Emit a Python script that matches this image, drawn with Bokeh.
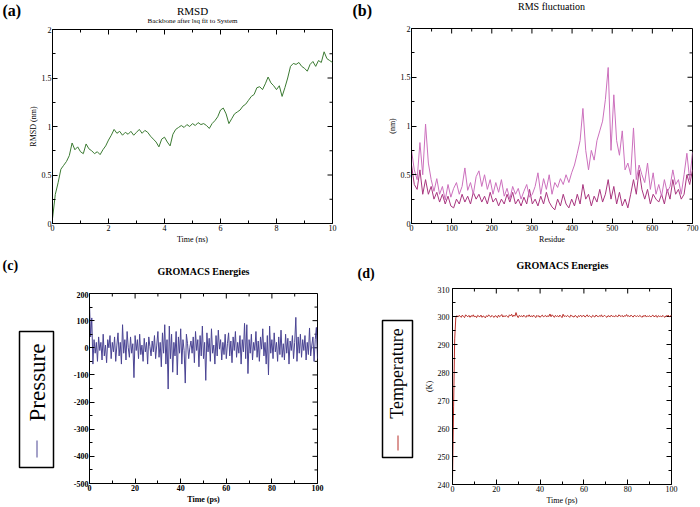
import numpy as np
from bokeh.plotting import figure
from bokeh.models import Range1d, FixedTicker, CustomJSTickFormatter
from bokeh.core.properties import value
from bokeh.layouts import row, column
from bokeh.embed import file_html
from bokeh.resources import INLINE

SERIF = "Liberation Serif"

# ---------------- data ----------------
# (a) RMSD backbone (nm) vs time (ns), 0..10 ns
rmsd_nm = [0.05, 0.30, 0.42, 0.56, 0.60, 0.64, 0.70, 0.83, 0.76, 0.79,
           0.74, 0.72, 0.82, 0.77, 0.75, 0.72, 0.74, 0.71, 0.76, 0.80,
           0.86, 0.91, 0.97, 0.93, 0.95, 0.91, 0.94, 0.92, 0.95, 0.91,
           0.94, 0.97, 0.93, 0.96, 0.94, 0.90, 0.87, 0.84, 0.79, 0.87,
           0.89, 0.84, 0.80, 0.92, 0.97, 0.99, 1.01, 0.99, 1.02, 1.00,
           1.03, 1.01, 1.04, 1.02, 1.03, 1.01, 0.98, 1.03, 1.06, 1.10,
           1.17, 1.19, 1.13, 1.03, 1.08, 1.13, 1.15, 1.17, 1.21, 1.23,
           1.27, 1.31, 1.33, 1.40, 1.41, 1.38, 1.44, 1.51, 1.45, 1.42,
           1.38, 1.42, 1.31, 1.40, 1.50, 1.62, 1.65, 1.64, 1.66, 1.62,
           1.60, 1.57, 1.64, 1.67, 1.62, 1.68, 1.66, 1.77, 1.70, 1.68,
           1.66]
rmsd_time_ns = np.linspace(0, 10, len(rmsd_nm))

# (b) RMS fluctuation (nm) per residue, two chains, residues 0..700
rmsf_chain1 = [0.75, 0.55, 0.45, 0.83, 0.50, 1.02, 0.62, 0.45, 0.33, 0.46,
               0.30, 0.38, 0.24, 0.40, 0.27, 0.36, 0.42, 0.30, 0.38, 0.57,
               0.34, 0.42, 0.30, 0.48, 0.54, 0.38, 0.50, 0.35, 0.45, 0.30,
               0.42, 0.32, 0.45, 0.28, 0.36, 0.25, 0.38, 0.30, 0.36, 0.25,
               0.33, 0.40, 0.27, 0.30, 0.38, 0.52, 0.30, 0.46, 0.35, 0.50,
               0.30, 0.42, 0.37, 0.46, 0.40, 0.50, 0.42, 0.52, 0.60, 0.72,
               0.85, 1.18, 0.75, 0.55, 0.75, 0.65, 0.85, 0.95, 1.05, 1.27,
               1.60, 0.75, 1.32, 0.85, 0.70, 0.95, 0.55, 0.62, 0.50, 0.98,
               0.45, 0.60, 0.50, 0.42, 0.62, 0.35, 0.52, 0.30, 0.40, 0.28,
               0.45, 0.32, 0.38, 0.55, 0.40, 0.45, 0.30, 0.50, 0.72, 0.45,
               0.73]
rmsf_chain2 = [0.60, 0.40, 0.35, 0.55, 0.30, 0.45, 0.30, 0.38, 0.25, 0.32,
               0.22, 0.30, 0.20, 0.28, 0.18, 0.16, 0.25, 0.20, 0.30, 0.22,
               0.28, 0.20, 0.32, 0.25, 0.30, 0.22, 0.28, 0.20, 0.32, 0.22,
               0.26, 0.18, 0.25, 0.20, 0.30, 0.22, 0.32, 0.20, 0.25, 0.18,
               0.27, 0.20, 0.35, 0.20, 0.25, 0.18, 0.28, 0.20, 0.32, 0.22,
               0.17, 0.14, 0.25, 0.18, 0.30, 0.20, 0.16, 0.25, 0.18, 0.30,
               0.20, 0.40, 0.25, 0.30, 0.18, 0.28, 0.22, 0.35, 0.22, 0.30,
               0.45, 0.25, 0.38, 0.20, 0.32, 0.18, 0.25, 0.16, 0.30, 0.45,
               0.30, 0.55, 0.35, 0.25, 0.35, 0.20, 0.30, 0.25, 0.22, 0.30,
               0.20, 0.35, 0.25, 0.45, 0.30, 0.35, 0.25, 0.30, 0.50, 0.40,
               0.55]
residues = np.linspace(0, 700, len(rmsf_chain1))

# (c) Pressure (bar) vs time (ps), 0..100 ps
pressure_bar = [160, 40, 110, -60, 30, -20, 20, -50, 40, -10,
                20, -45, 50, -30, 10, -55, 30, 0, 45, -40,
                20, -15, 40, -50, 10, 55, -30, 20, -60, 85,
                -20, 30, -45, 60, 0, -35, 40, -20, 15, -110,
                45, -10, 30, -40, 50, -25, 10, -50, 35, -15,
                20, -60, 40, 5, -30, 25, -15, 45, -40, 10,
                60, -35, 20, -70, 55, -20, 85, -60, 30, -152,
                80, -40, 50, -90, 20, -30, 60, -100, 40, -20,
                70, -60, 30, -10, -130, 50, 15, -40, 0, 25,
                -20, 40, -55, 60, -10, 30, -70, 45, -30, 80,
                -40, 20, -120, 55, -15, 35, -50, 70, -20, 10,
                -60, 45, -30, 65, -5, 30, -45, 20, -25, 50,
                -40, 15, 55, -30, 25, -55, 40, -10, 60, -35,
                20, -20, 45, -60, 30, -15, 90, -40, 85, -95,
                30, -20, 50, -45, 20, -10, 60, -35, 25, -50,
                40, -5, 70, -30, 20, -60, 45, -100, 80, -20,
                30, -40, 55, -15, 20, -50, 40, -25, 65, -35,
                15, -45, 50, -20, 35, -60, 25, -10, 45, -40,
                20, 112, -50, 40, -20, 50, -35, 30, -10, 45,
                -45, 20, -25, 73, -30, 10, 40, -50, 30, 75,
                -40]
pressure_time_ps = np.linspace(0, 100, len(pressure_bar))

# (d) Temperature (K) vs time (ps), 0..100 ps
temperature_K = [241, 268, 292, 299.5, 300.3, 299.8, 300.4, 300.1, 299.7, 300.5,
                 300.0, 299.6, 300.6, 300.2, 299.9, 300.4, 299.7, 300.3, 300.0, 300.6,
                 299.8, 300.2, 299.6, 300.4, 300.1, 299.9, 300.5, 299.7, 300.2, 300.0,
                 299.5, 300.3, 299.9, 300.6, 300.1, 299.8, 300.4, 300.0, 299.7, 300.3,
                 300.1, 299.6, 300.5, 299.9, 300.2, 300.7, 299.8, 300.3, 299.9, 300.4,
                 300.0, 299.7, 300.6, 300.2, 300.8, 299.9, 300.5, 300.1, 301.4, 300.2,
                 299.6, 300.4, 300.0, 300.3, 299.8, 300.5, 300.1, 299.7, 300.4, 300.0,
                 300.6, 299.9, 300.3, 299.8, 300.5, 300.1, 299.6, 300.4, 300.0, 300.3,
                 299.7, 300.2, 300.5, 299.9, 300.1, 300.4, 299.8, 300.3, 300.0, 300.9,
                 299.9, 300.6, 300.2, 299.7, 300.4, 300.0, 300.3, 299.8, 300.5, 300.1,
                 299.6, 300.8, 300.0, 300.3, 299.9, 300.4, 300.1, 299.7, 300.5, 300.2,
                 300.0, 299.8, 300.4, 300.1, 299.6, 300.3, 300.0, 300.5, 299.9, 300.2,
                 300.4, 299.8, 300.1, 300.6, 299.9, 300.3, 300.0, 299.7, 300.4, 300.1,
                 299.8, 300.5, 300.2, 299.9, 300.3, 300.0, 300.6, 299.8, 300.2, 300.4,
                 300.0, 299.7, 300.3, 300.1, 299.9, 300.5, 300.0, 300.2, 299.8, 300.4,
                 300.1, 299.9, 300.6, 300.2, 300.0, 300.4, 299.8, 300.3, 300.1, 300.7,
                 300.0, 300.3, 299.9, 300.5, 300.1, 299.8, 300.4, 300.2, 300.0, 300.3,
                 299.9, 300.4, 300.1, 299.7, 300.3, 300.0, 300.5, 299.8, 300.2, 300.0,
                 300.3, 299.8, 300.2, 300.5, 299.9, 300.1, 300.4, 299.7, 300.3, 300.0,
                 300.2, 299.8, 300.4, 300.0, 299.7, 300.3, 300.1, 300.5, 299.9, 300.2,
                 300.3]
temperature_time_ps = np.linspace(0, 100, len(temperature_K))

# tick definitions
a_xticks, a_xminor = [0, 2, 4, 6, 8, 10], [1, 3, 5, 7, 9]
a_yticks, a_yminor = [0, 0.5, 1, 1.5, 2], [0.25, 0.75, 1.25, 1.75]
b_xticks, b_xminor = [0, 100, 200, 300, 400, 500, 600, 700], [50, 150, 250, 350, 450, 550, 650]
c_xticks, c_xminor = [0, 20, 40, 60, 80, 100], [10, 30, 50, 70, 90]
c_yticks, c_yminor = [-500, -400, -300, -200, -100, 0, 100, 200], [-450, -350, -250, -150, -50, 50, 150]
d_yticks, d_yminor = [240, 250, 260, 270, 280, 290, 300, 310], [245, 255, 265, 275, 285, 295, 305]

FMT = "return String(Math.round(tick*1000)/1000)"


def style_axis(ax, ticks, minor, bold=False, label_std=1):
    ax.ticker = FixedTicker(ticks=ticks, minor_ticks=minor)
    ax.formatter = CustomJSTickFormatter(code=FMT)
    ax.axis_line_color = "black"
    ax.major_tick_line_color = "black"
    ax.minor_tick_line_color = "black"
    ax.major_tick_in = 5
    ax.major_tick_out = 0
    ax.minor_tick_in = 3
    ax.minor_tick_out = 0
    ax.major_label_text_font = SERIF
    ax.major_label_text_color = "black"
    ax.major_label_text_font_style = "bold" if bold else "normal"
    ax.major_label_text_font_size = "8px"
    ax.major_label_standoff = label_std
    ax.axis_label_text_font = SERIF
    ax.axis_label_text_font_style = "bold" if bold else "normal"
    ax.axis_label_text_color = "black"
    ax.axis_label_text_font_size = "8px"
    ax.axis_label_standoff = 1


def panel(w, h, xr, yr, borders, xt, xm, yt, ym, bold=False, xlabel=None, ylabel=None, ystd=1):
    p = figure(width=w, height=h, x_range=Range1d(*xr), y_range=Range1d(*yr),
               output_backend="svg", toolbar_location=None,
               min_border_left=borders[0], min_border_right=borders[1],
               min_border_top=borders[2], min_border_bottom=borders[3])
    p.grid.visible = False
    p.outline_line_color = "black"
    p.outline_line_width = 1
    p.background_fill_color = "white"
    p.border_fill_color = "white"
    style_axis(p.xaxis[0], xt, xm, bold)
    style_axis(p.yaxis[0], yt, ym, bold, label_std=ystd)
    if xlabel:
        p.xaxis[0].axis_label = xlabel
    if ylabel:
        p.yaxis[0].axis_label = ylabel
    # mirrored inward ticks on the top and right edges (xmgrace style)
    for ticks, ln in ((xt, 5), (xm, 3)):
        p.ray(x=ticks, y=[yr[1]] * len(ticks), length=ln, length_units="screen",
              angle=-90, angle_units="deg", line_color="black", line_width=1)
    for ticks, ln in ((yt, 5), (ym, 3)):
        p.ray(x=[xr[1]] * len(ticks), y=ticks, length=ln, length_units="screen",
              angle=180, angle_units="deg", line_color="black", line_width=1)
    return p


def blank(w, h):
    f = figure(width=w, height=h, x_range=Range1d(0, w), y_range=Range1d(h, 0),
               output_backend="svg", toolbar_location=None,
               x_axis_type=None, y_axis_type=None, min_border=0)
    f.grid.visible = False
    f.outline_line_color = None
    f.background_fill_color = "white"
    f.border_fill_color = "white"
    return f


def put_text(f, x, y, text, size, bold=False, align="center", angle=0):
    f.text(x=[x], y=[y], text=[text], text_font=value(SERIF), text_font_size=value(size),
           text_font_style=value("bold" if bold else "normal"), text_align=value(align),
           text_baseline=value("middle"), text_color="black", angle=angle)


def legend_box(w, h, mb, bw, bh, text, size, tx, ty, lx, ly0, ly1, color):
    f = figure(width=w, height=h, x_range=Range1d(0, bw), y_range=Range1d(bh, 0),
               output_backend="svg", toolbar_location=None,
               x_axis_type=None, y_axis_type=None,
               min_border_left=mb[0], min_border_right=mb[1],
               min_border_top=mb[2], min_border_bottom=mb[3])
    f.grid.visible = False
    f.outline_line_color = "black"
    f.outline_line_width = 1.5
    f.border_fill_color = "white"
    put_text(f, tx, ty, text, size, angle=np.pi / 2)
    f.segment(x0=[lx], y0=[ly0], x1=[lx], y1=[ly1], line_color=color, line_width=1)
    return f


# ---------------- (a) ----------------
hA = blank(350, 25)
put_text(hA, 2, 10, "(a)", "16px", bold=True, align="left")
put_text(hA, 192, 10, "RMSD", "11px")
put_text(hA, 192, 20, "Backbone after lsq fit to System", "7px")
pA = panel(350, 221, (0, 10), (0, 2), (52, 18, 4, 22), a_xticks, a_xminor, a_yticks, a_yminor,
           xlabel="Time (ns)", ylabel="RMSD (nm)")
pA.line(rmsd_time_ns, rmsd_nm, line_color="#3b7a32", line_width=1)

# ---------------- (b) ----------------
hB = blank(350, 25)
put_text(hB, 2, 10, "(b)", "16px", bold=True, align="left")
put_text(hB, 201, 6, "RMS fluctuation", "10px")
pB = panel(350, 221, (0, 700), (0, 2), (61, 8, 3, 23), b_xticks, b_xminor, a_yticks, a_yminor,
           xlabel="Residue", ylabel="(nm)")
pB.line(residues, rmsf_chain2, line_color="#a8357f", line_width=1)
pB.line(residues, rmsf_chain1, line_color="#cc70bd", line_width=1)

# ---------------- (c) ----------------
hC = blank(350, 45)
put_text(hC, 2, 19, "(c)", "14px", bold=True, align="left")
put_text(hC, 203, 25, "GROMACS Energies", "10px", bold=True)
legC = legend_box(60, 216, (19, 7, 40, 40), 34, 136, "Pressure", "23px",
                  17.5, 51, 17.5, 109, 126, "#4a4493")
pC = panel(290, 216, (0, 100), (-500, 200), (29, 33, 2, 24), c_xticks, c_xminor, c_yticks, c_yminor,
           bold=True, xlabel="Time (ps)")
pC.line(pressure_time_ps, pressure_bar, line_color="#4a4493", line_width=1)

# ---------------- (d) ----------------
hD = blank(350, 40)
put_text(hD, 7, 27, "(d)", "14px", bold=True, align="left")
put_text(hD, 212, 19, "GROMACS Energies", "10px", bold=True)
legD = legend_box(70, 221, (32, 8, 34, 50), 30, 137, "Temperature", "18px",
                  14.5, 53, 15.5, 115, 130, "#b8302a")
pD = panel(280, 221, (0, 100), (240, 310), (32, 29, 2, 21), c_xticks, c_xminor, d_yticks, d_yminor,
           xlabel="Time (ps)", ylabel="(K)", ystd=3)
pD.yaxis[0].axis_label_standoff = 1
pD.line(temperature_time_ps, temperature_K, line_color="#b8302a", line_width=1)

# wrap header / legend figures so that their frames are not aligned with the plots
layout = column(
    row(column(row(hA), pA), column(row(hB), pB)),
    row(column(row(hC), row(column(legC), pC)), column(row(hD), row(column(legD), pD))),
)
open("out.html", "w").write(file_html(layout, INLINE))
